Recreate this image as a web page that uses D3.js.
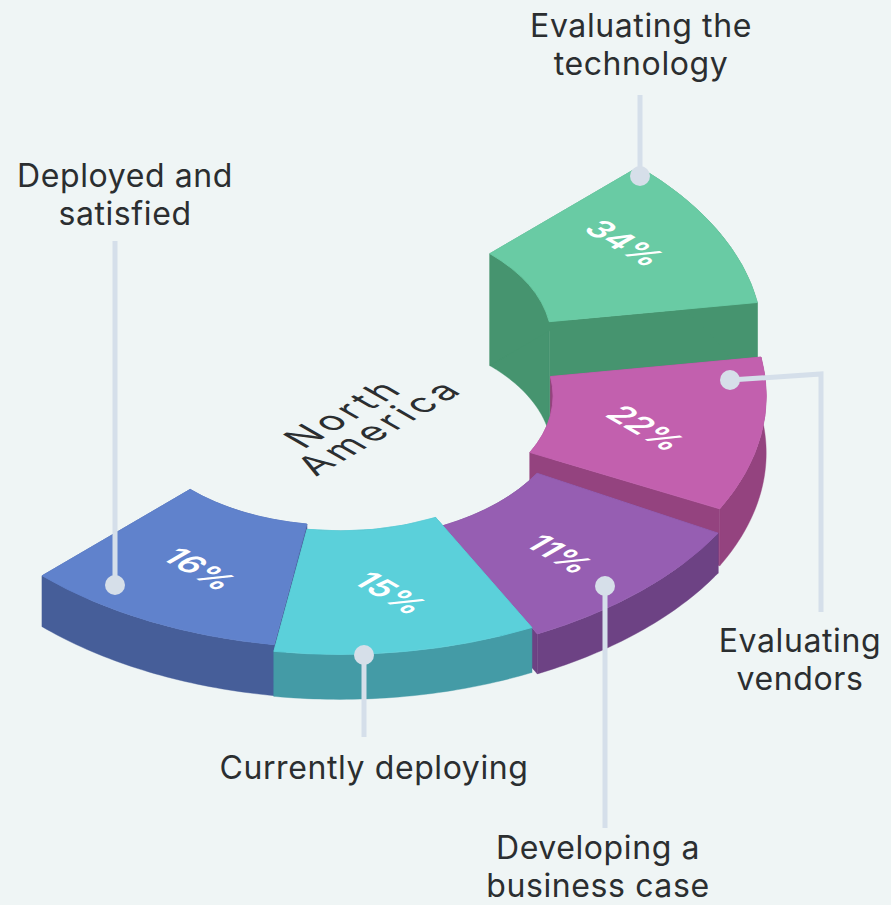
<!DOCTYPE html>
<html>
<head>
<meta charset="utf-8">
<script src="https://cdn.jsdelivr.net/npm/d3@7"></script>
<style>
    html, body { margin: 0; padding: 0; background: #eff5f5; }
    svg { display: block; }
    text { font-family: Inter, sans-serif; fill: #2b2e30; }
</style>
</head>
<body>
<div id="container"></div>
<script>
const width = 891,
        height = 905;

// data, left to right round the half ring
const categories = ["Deployed and satisfied", "Currently deploying", "Developing a business case", "Evaluating vendors", "Evaluating the technology"];
const shares = [16, 15, 11, 22, 34];
const blockHeights = [51, 45, 45, 57, 112];
const labelLines = [["Deployed and", "satisfied"], ["Currently deploying"], ["Developing a", "business case"], ["Evaluating", "vendors"], ["Evaluating the", "technology"]];

const topColors = ["#6082cc", "#5bd0da", "#965eb2", "#c260ae", "#69cba4"];
const wallColors = ["#465e99", "#449ba6", "#6d4284", "#94437f", "#46946f"];

// shape of each slice, the slices are not quite the same size
const ring = [
    {inner: 173, outer: 344, trim: 0, raise: 0},
    {inner: 172, outer: 345, trim: 0, raise: 0},
    {inner: 185, outer: 355, trim: 0.045, raise: 5},
    {inner: 174, outer: 348, trim: 0, raise: 0},
    {inner: 173, outer: 345, trim: 0, raise: 0}
];

// where the callouts go
const callouts = [
    {dot: [115, 585], path: [[115, 241]], text: [125, 187]},
    {dot: [364, 655], path: [[364, 737]], text: [374, 779]},
    {dot: [605, 586], path: [[605, 828]], text: [598, 859]},
    {dot: [730, 380], path: [[821, 374], [821, 612]], text: [800, 652]},
    {dot: [640, 176], path: [[640, 95]], text: [641, 37]}
];
const sharePos = [[200, 569], [391, 593], [560, 554], [646, 428], [625, 243]];

const cx = 340,
        baseY = 453,
        kx = 0.866,
        ky = 0.505,
        lineGap = 38;

var svg = d3.select("#container").append("svg")
        .attr("width", width)
        .attr("height", height)
        .style("background", "#eff5f5");

var pie = d3.pie()
        .value(function() { return 1; })
        .sort(null)
        .startAngle(0)
        .endAngle(Math.PI);

var height_scale = d3.scaleOrdinal().domain(shares).range(blockHeights);

var slices = pie(shares).map(function(d, i) {
    return {
        i: i,
        value: d.data,
        start: d.startAngle,
        end: d.endAngle - ring[i].trim,
        inner: ring[i].inner,
        outer: ring[i].outer,
        raise: ring[i].raise,
        lift: height_scale(d.data)
    };
});

// flat plane -> picture, same axes as the matrix on the top faces
function project(r, angle, lift) {
    var x = r * Math.sin(angle),
        y = -r * Math.cos(angle);
    return [cx + kx * (x + y), baseY - lift + ky * (x - y)];
}

var line = d3.line();

function arc_points(r, a0, a1, lift) {
    return d3.range(0, 41).map(function(k) {
        return project(r, a0 + (a1 - a0) * k / 40, lift);
    });
}

function wall_path(d, r) {
    return line(arc_points(r, d.start, d.end, d.lift).concat(arc_points(r, d.end, d.start, d.raise))) + "Z";
}

function end_wall_path(d, angle) {
    return line([
        project(d.inner, angle, d.lift),
        project(d.outer, angle, d.lift),
        project(d.outer, angle, d.raise),
        project(d.inner, angle, d.raise)
    ]) + "Z";
}

var arc = d3.arc()
        .innerRadius(function(d) { return d.inner; })
        .outerRadius(function(d) { return d.outer; })
        .startAngle(function(d) { return d.start; })
        .endAngle(function(d) { return d.end; });

// back to front
var draw_order = [4, 3, 2, 0, 1];

draw_order.forEach(function(i) {
    var d = slices[i];
    var g = svg.append("g").attr("class", "slice");

    g.selectAll("path.wall")
        .data([wall_path(d, d.inner), end_wall_path(d, d.start), end_wall_path(d, d.end), wall_path(d, d.outer)])
        .enter()
        .append("path")
        .attr("class", "wall")
        .attr("d", function(p) { return p; })
        .attr("fill", wallColors[i])
        .attr("stroke", wallColors[i])
        .attr("stroke-width", 0.4);

    g.append("path")
        .attr("d", arc(d))
        .attr("fill", topColors[i])
        .attr("stroke", topColors[i])
        .attr("stroke-width", 0.8)
        .attr("transform", `matrix(${kx},${ky},${kx},${-ky},${cx},${baseY - d.lift})`);
});

// percent labels lie on the top faces
svg.selectAll("text.share")
    .data(shares)
    .enter()
    .append("text")
    .attr("class", "share")
    .attr("text-anchor", "middle")
    .attr("dominant-baseline", "central")
    .attr("transform", function(d, i) {
        return `matrix(0.866,0.5,-0.866,0.5,${sharePos[i][0]},${sharePos[i][1]})`;
    })
    .style("font-size", "33px")
    .style("font-weight", 600)
    .style("fill", "#fff")
    .text(function(d) { return d + "%"; });

// centre title, same plane
[["North", 343, 413], ["America", 379, 427]].forEach(function(t) {
    svg.append("text")
        .attr("text-anchor", "middle")
        .attr("dominant-baseline", "central")
        .attr("transform", `matrix(0.866,-0.5,0.866,0.5,${t[1]},${t[2]})`)
        .style("font-size", "37px")
        .style("letter-spacing", "4px")
        .text(t[0]);
});

// leader lines
callouts.forEach(function(c, i) {
    svg.append("path")
        .attr("d", line([c.dot].concat(c.path)))
        .attr("fill", "none")
        .attr("stroke", "#d5dfea")
        .attr("stroke-width", 5);

    svg.append("circle")
        .attr("cx", c.dot[0])
        .attr("cy", c.dot[1])
        .attr("r", 10)
        .attr("fill", "#d6dfe9");

    var label = svg.append("text")
        .attr("text-anchor", "middle")
        .style("font-size", "32px")
        .style("letter-spacing", "0.6px")
        .attr("class", "callout");

    labelLines[i].forEach(function(s, k) {
        label.append("tspan")
            .attr("x", c.text[0])
            .attr("y", c.text[1] + k * lineGap)
            .text(s);
    });
});
</script>
</body>
</html>
